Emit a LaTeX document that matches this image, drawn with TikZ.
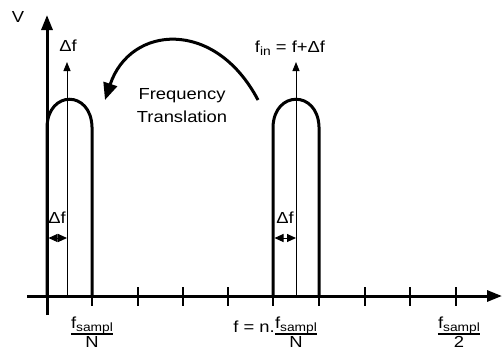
\documentclass[tikz,border=0pt]{standalone}
\usepackage{fontspec}
\setmainfont[FakeStretch=1.15]{Liberation Sans}
\usetikzlibrary{arrows.meta}
\newcommand\mysub[1]{\raisebox{-0.2em}{\fontsize{12}{12}\selectfont #1}}
\newcommand\fsamp{f\mysub{sampl}}
\begin{document}
\begin{tikzpicture}[x=1pt,y=-1pt,
  font=\fontsize{16}{19}\selectfont,
  axis/.style={line width=3pt,-{Triangle[length=15pt,width=11pt]}},
  band/.style={line width=3pt},
  tickmark/.style={line width=1.5pt},
  thinarrow/.style={line width=0.9pt,-{Triangle[length=9pt,width=7pt]}},
  dimarrow/.style={line width=1pt,{Triangle[length=9pt,width=8pt]}-{Triangle[length=9pt,width=8pt]}},
  curvearrow/.style={line width=3pt,-{Triangle[length=17pt,width=14pt]}},
  fracline/.style={line width=1.2pt},
  lbl/.style={inner sep=1pt},
  fpart/.style={inner sep=0pt,anchor=base}]
\useasboundingbox (0,0) rectangle (503,349);
% axes
\coordinate (ybot) at (47,315);
\coordinate (ytop) at (47,15);
\coordinate (xl) at (27,296);
\coordinate (xr) at (502,296);
\draw[axis] (ybot) -- (ytop);
\draw[axis] (xl) -- (xr);
% ticks
\foreach \x in {92,138,183,228,273,319,365,410,456}{
  \coordinate (ta\x) at (\x,287);
  \coordinate (tb\x) at (\x,306);
  \draw[tickmark] (ta\x) -- (tb\x);
}
% left band
\coordinate (l1) at (47,296);
\coordinate (l2) at (47,127);
\coordinate (l3) at (92,127);
\coordinate (l4) at (92,296);
\draw[band] (l1) -- (l2) .. controls (48,90) and (91,90) .. (l3) -- (l4);
% right band
\coordinate (r1) at (273,296);
\coordinate (r2) at (273,127);
\coordinate (r3) at (319,127);
\coordinate (r4) at (319,296);
\draw[band] (r1) -- (r2) .. controls (274,90) and (318,90) .. (r3) -- (r4);
% thin center lines
\coordinate (c1b) at (67,296);
\coordinate (c1t) at (67,62);
\coordinate (c2b) at (296,296);
\coordinate (c2t) at (296,62);
\draw[thinarrow] (c1b) -- (c1t);
\draw[thinarrow] (c2b) -- (c2t);
% delta f dimension arrows
\coordinate (d1a) at (48.5,238);
\coordinate (d1b) at (67,238);
\coordinate (d2a) at (274.5,238);
\coordinate (d2b) at (296,238);
\draw[dimarrow] (d1a) -- (d1b);
\draw[dimarrow] (d2a) -- (d2b);
% curved arrow
\coordinate (ca) at (258,100);
\coordinate (cb) at (105,100);
\draw[curvearrow] (ca) .. controls (215,18) and (130,25) .. (cb);
% labels
\node[lbl] (V) at (18,17) {V};
\node[lbl] (df1) at (68,46) {Δf};
\node[lbl] (fin) at (290,48) {f\mysub{in} = f+Δf};
\node[lbl,align=center,font=\fontsize{16}{23}\selectfont] (ft) at (182,106) {Frequency\\Translation};
\node[lbl] (dl1) at (57,218) {Δf};
\node[lbl] (dl2) at (285,218) {Δf};
% fractions
\node[fpart] (n1) at (92,328.5) {\fsamp};
\node[fpart] (m1) at (92,347) {N};
\draw[fracline] (n1.west |- 0,334) -- (n1.east |- 0,334);
\node[fpart] (n2) at (296,328.5) {\fsamp};
\node[fpart] (m2) at (296,347) {N};
\draw[fracline] (n2.west |- 0,334) -- (n2.east |- 0,334);
\node[lbl,anchor=base east] (feq) at (276,332) {f = n.};
\node[fpart] (n3) at (459,328.5) {\fsamp};
\node[fpart] (m3) at (459,347) {2};
\draw[fracline] (n3.west |- 0,334) -- (n3.east |- 0,334);
\end{tikzpicture}
\end{document}
